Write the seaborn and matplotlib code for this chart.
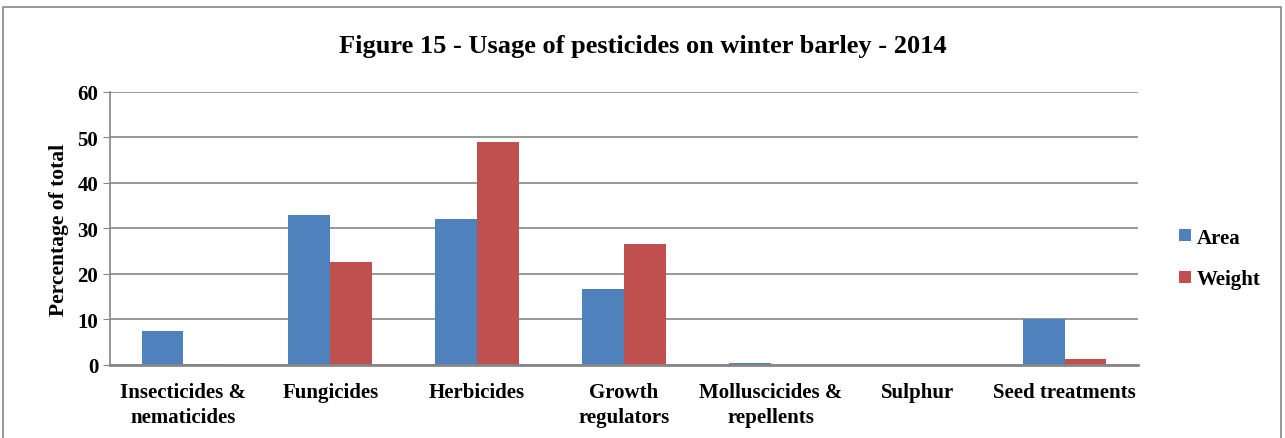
import numpy as np
import pandas as pd
import seaborn as sns
import matplotlib.pyplot as plt
from matplotlib.patches import Rectangle

categories = ["Insecticides &\nnematicides", "Fungicides", "Herbicides", "Growth\nregulators",
              "Molluscicides &\nrepellents", "Sulphur", "Seed treatments"]
area = [7.5, 33.0, 32.1, 16.7, 0.5, 0.0, 10.1]
weight = [0.3, 22.6, 49.0, 26.6, 0.05, 0.0, 1.3]

df = pd.DataFrame({
    "category": categories * 2,
    "value": area + weight,
    "series": ["Area"] * len(categories) + ["Weight"] * len(categories),
})

sns.set_style("white")
plt.rcParams['font.family'] = ['Liberation Serif', 'DejaVu Serif']
plt.rcParams['font.weight'] = 'bold'
plt.rcParams['text.color'] = 'black'

fig = plt.figure(figsize=(12.85, 4.39), dpi=100)
ax = fig.add_axes([0.0856, 0.1663, 0.8, 0.622])

ax = sns.barplot(data=df, x="category", y="value", hue="series",
                 palette=["#4f81bd", "#c0504d"], width=0.57, saturation=1,
                 ax=ax, legend=True, edgecolor="none")

ax.set_ylim(0, 60)
ax.set_yticks(range(0, 61, 10))
ax.yaxis.grid(True, color="#868686", linewidth=1.2)
ax.set_axisbelow(True)
for s in ["top", "right"]:
    ax.spines[s].set_visible(False)
ax.spines["left"].set_color("#868686")
ax.spines["bottom"].set_color("#868686")
ax.spines["bottom"].set_linewidth(2)
ax.spines["left"].set_linewidth(1.2)
ax.tick_params(axis="y", length=5, color="#868686", labelsize=15, left=True,
               labelcolor="black")
ax.tick_params(axis="x", length=0, labelsize=15, pad=12, labelcolor="black")
for t in ax.get_xticklabels() + ax.get_yticklabels():
    t.set_fontweight("bold")
    t.set_linespacing(1.35)
ax.set_xlabel("")
ax.set_ylabel("Percentage of total", fontsize=15.5, fontweight="bold",
              color="black", labelpad=6)

ax.legend(loc="center left", bbox_to_anchor=(1.022, 0.39), frameon=False,
          handlelength=0.55, handleheight=0.55, handletextpad=0.3,
          labelspacing=1.05, prop={"weight": "bold", "size": 15})

fig.suptitle("Figure 15 - Usage of pesticides on winter barley - 2014",
             y=0.92, fontsize=19, fontweight="bold", color="black")

fig.patches.append(Rectangle((0.0025, -0.05), 0.994, 1.032, transform=fig.transFigure,
                             fill=False, edgecolor="#868686", linewidth=1.2))

fig.savefig("out.png", dpi=100)
